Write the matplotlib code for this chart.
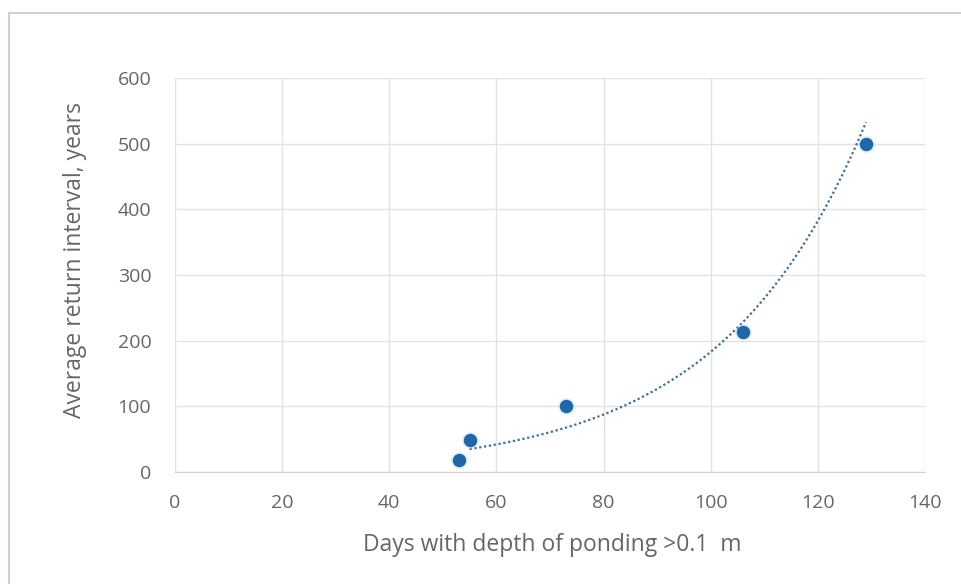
import numpy as np
import matplotlib.pyplot as plt
from matplotlib.patches import Rectangle

# data
days = [53, 55, 73, 106, 129]
return_years = [18, 48, 100, 213, 500]

x_ticks = [0, 20, 40, 60, 80, 100, 120, 140]
y_ticks = [0, 100, 200, 300, 400, 500, 600]

plt.rcParams['font.family'] = ['Open Sans', 'DejaVu Sans']
text_col = '#666666'

fig = plt.figure(figsize=(9.61, 5.84), dpi=100)
ax = fig.add_axes([0.182, 0.192, 0.7805, 0.674])

#chart area border
fig.patches.append(Rectangle((0.0094, -0.01), 1.0, 0.988, transform=fig.transFigure,
                             fill=False, edgecolor='#d0d0d0', linewidth=1.5))

#exponential trendline (Excel style)
b, a = np.polyfit(days, np.log(return_years), 1)
xt = np.linspace(min(days) + 2, max(days), 200)
ax.plot(xt, np.exp(a) * np.exp(b * xt), linestyle=(0, (1, 1.2)), color='#3b6fa0',
        linewidth=1.6, zorder=2)

#soft halo + markers
ax.scatter(days, return_years, s=150, color='#a8d8f8', alpha=0.35, linewidths=0, zorder=3)
ax.scatter(days, return_years, s=75, color='#1f67a8', zorder=4)

ax.set_xlim(0, 140)
ax.set_ylim(0, 600)
ax.set_xticks(x_ticks)
ax.set_yticks(y_ticks)
ax.grid(True, color='#e3e3e3', linewidth=1)
ax.set_axisbelow(True)
for s in ['top', 'right', 'left']:
    ax.spines[s].set_visible(False)
ax.spines['bottom'].set_color('#d0d0d0')
ax.tick_params(length=0, colors=text_col, labelsize=14)
ax.tick_params(axis='x', pad=16)
ax.tick_params(axis='y', pad=17)

ax.set_xlabel('Days with depth of ponding >0.1  m', color=text_col, fontsize=16.5)
ax.set_ylabel('Average return interval, years', color=text_col, fontsize=16.5)
ax.xaxis.set_label_coords(0.503, -0.185)
ax.xaxis.label.set_va('center')
ax.yaxis.set_label_coords(-0.133, 0.538)
ax.yaxis.label.set_va('center')

fig.savefig('out.png', dpi=100)
